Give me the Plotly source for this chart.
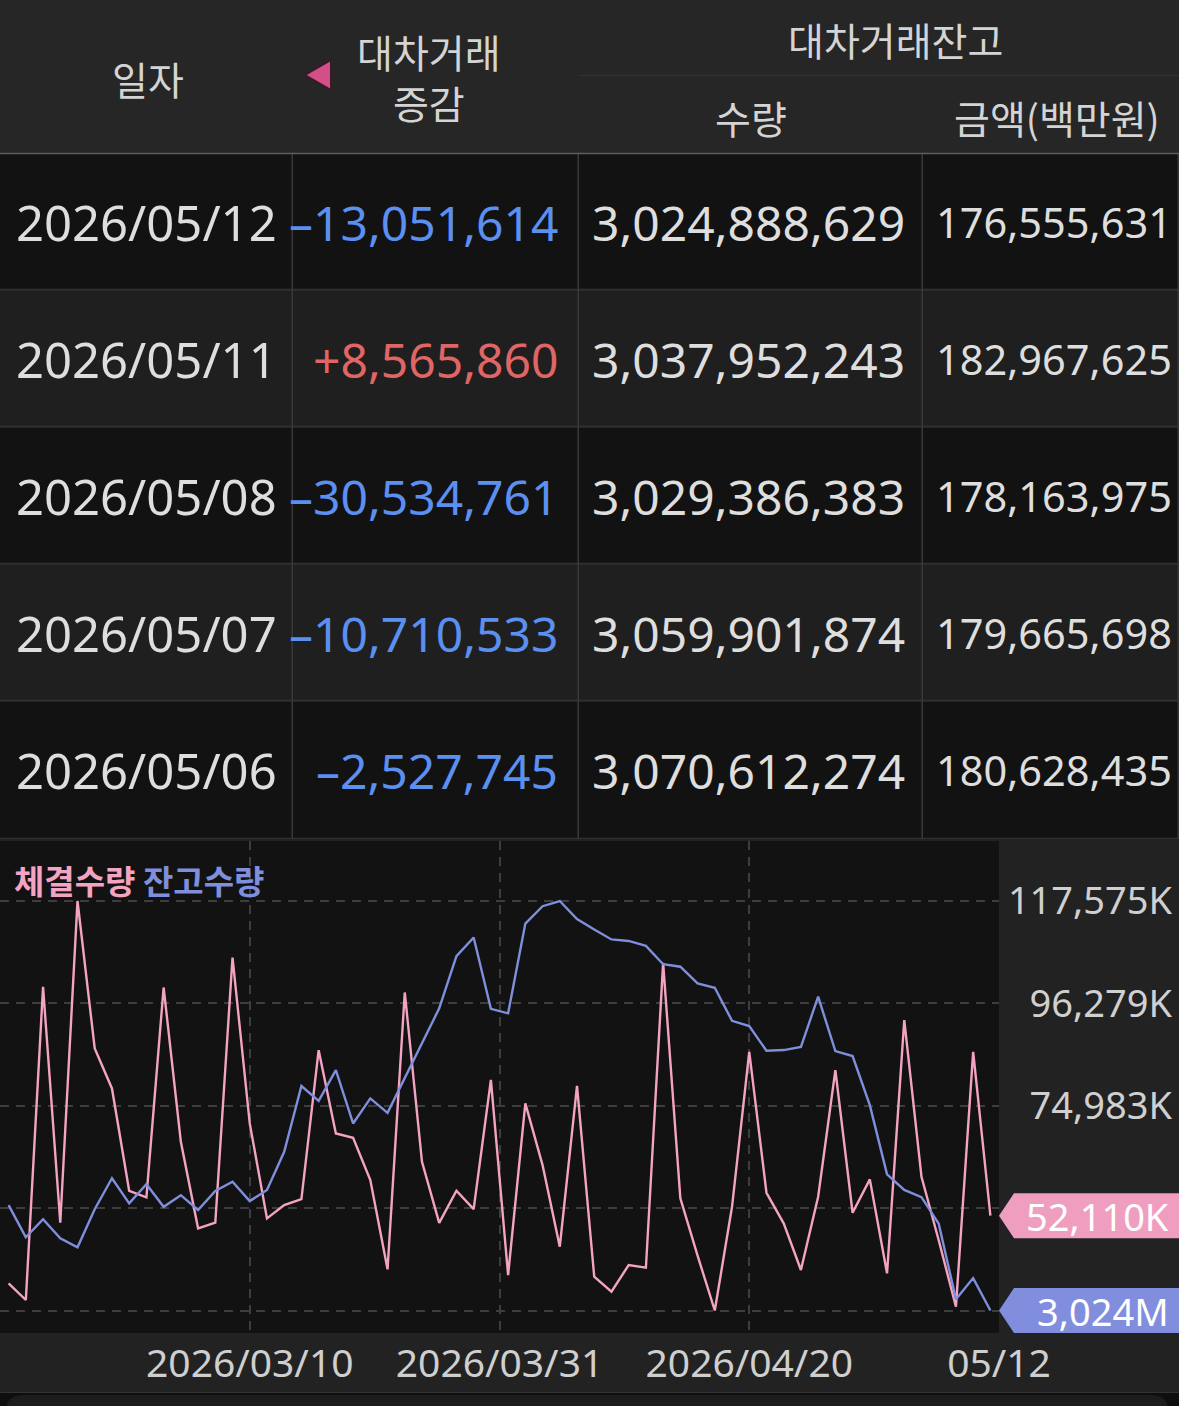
import plotly.graph_objects as go

W, H = 1179, 1406

# ---- table data (latest five rows) ----
dates = ["2026/05/12", "2026/05/11", "2026/05/08", "2026/05/07", "2026/05/06"]
changes = [-13051614, 8565860, -30534761, -10710533, -2527745]
balance_qty = [3024888629, 3037952243, 3029386383, 3059901874, 3070612274]
balance_amt = [176555631, 182967625, 178163975, 179665698, 180628435]

# ---- chart data: 58 trading days, oldest first ----
tick_labels = ["2026/03/10", "2026/03/31", "2026/04/20", "05/12"]
# 체결수량 (thousand shares)
executed_k = [
    38046, 34574, 99709, 50645, 117575, 86902, 78586, 57297, 55925, 99584,
    67485, 49480, 50690, 105821, 71310, 51559, 54324, 55572, 86549, 69231,
    68316, 59522, 40956, 98545, 63327, 50610, 57300, 53493, 80374, 39771,
    75468, 62640, 45655, 79127, 39418, 36300, 41850, 41289, 104699, 55717,
    43800, 32391, 53971, 86196, 56882, 50520, 40811, 56050, 82391, 52724,
    59667, 40125, 92786, 60208, 47000, 33181, 86200, 52110,
]
# 잔고수량 (million shares)
balance_m = [
    3067.4, 3054.4, 3061.7, 3054.0, 3050.4, 3065.7, 3078.2, 3068.1, 3075.8, 3066.7,
    3071.4, 3065.4, 3073.1, 3076.8, 3069.0, 3073.5, 3088.9, 3115.4, 3109.4, 3121.8,
    3100.3, 3110.4, 3104.6, 3118.7, 3132.8, 3146.7, 3167.8, 3175.3, 3146.5, 3144.7,
    3180.9, 3187.9, 3190.0, 3182.7, 3178.5, 3174.5, 3173.9, 3171.9, 3164.5, 3163.5,
    3156.8, 3155.0, 3141.7, 3139.6, 3129.6, 3129.9, 3131.2, 3151.4, 3129.5, 3127.5,
    3107.7, 3079.8, 3073.5, 3070.612, 3059.902, 3029.386, 3037.952, 3024.889,
]

PINK = "#f3a4c3"
BLUE = "#7f8fdc"
KR = "Noto Sans CJK KR"
NUM = "Noto Sans"
TXT = "#dedede"


def px(x):
    return x / W


def py(y):
    return 1 - y / H


# layout geometry (pixels)
TABLE_TOP, TABLE_BOTTOM = 153.5, 839
COL_EDGES = [0, 293, 579, 923, 1179]
RIGHT_PAD = [None, 19, 16, 5]          # None -> centred
PLOT_TOP, PLOT_BOTTOM, PLOT_RIGHT = 841, 1333, 999
GRID_TOP, GRID_BOTTOM = 901, 1310.5


def axis_range(vals):
    lo, hi = min(vals), max(vals)
    per_px = (hi - lo) / (GRID_BOTTOM - GRID_TOP)
    return [lo - per_px * (PLOT_BOTTOM - GRID_BOTTOM), hi + per_px * (GRID_TOP - PLOT_TOP)]


def signed(v):
    return f"{v:+,}".replace("-", "\u2013")


n = len(executed_k)
xs = list(range(n))
e_lo, e_hi = min(executed_k), max(executed_k)
e_step = (e_hi - e_lo) / 4
y_ticks = [e_lo + e_step * k for k in range(5)]
y_text = ["", ""] + [f"{v:,.0f}K" for v in y_ticks[2:]]
x_ticks = [-0.5 + n * f for f in (0.25, 0.5, 0.75, 1.0)]

fig = go.Figure()

# ---- table body: cells as a heatmap on a hidden axis pair ----
nrows = len(dates)
fig.add_trace(go.Heatmap(
    x=COL_EDGES, y=[r - 0.5 for r in range(nrows + 1)],
    z=[[r % 2] * 4 for r in range(nrows)],
    colorscale=[[0, "#121212"], [1, "#1f1f1f"]], zmin=0, zmax=1, showscale=False,
    xgap=1.5, ygap=1.5, hoverinfo="skip", xaxis="x3", yaxis="y3",
))

# ---- chart lines ----
fig.add_trace(go.Scatter(x=xs, y=balance_m, yaxis="y2", mode="lines",
                         line=dict(color=BLUE, width=2.4), hoverinfo="skip", showlegend=False))
fig.add_trace(go.Scatter(x=xs, y=executed_k, yaxis="y", mode="lines",
                         line=dict(color=PINK, width=2.4), hoverinfo="skip", showlegend=False))

grid = dict(showgrid=True, gridcolor="#3d3d3d", gridwidth=1.5, griddash="9px,7px", zeroline=False,
            showline=False, ticks="", automargin=False, fixedrange=True)
hidden = dict(visible=False, fixedrange=True, automargin=False)

fig.update_layout(
    width=W, height=H, margin=dict(l=0, r=0, t=0, b=0),
    paper_bgcolor="#222222", plot_bgcolor="#121212", showlegend=False,
    xaxis=dict(domain=[0, px(PLOT_RIGHT)], range=[-0.5, n - 0.5], tickvals=x_ticks, ticktext=tick_labels,
               tickfont=dict(family=NUM, size=39, color="#cfcfcf"), ticklabelstandoff=4, **grid),
    yaxis=dict(domain=[py(PLOT_BOTTOM), py(PLOT_TOP)], range=axis_range(executed_k), tickvals=y_ticks,
               ticktext=y_text, anchor="free", position=px(1172), side="left",
               tickfont=dict(family=NUM, size=38, color="#d0d0d0"), **grid),
    yaxis2=dict(overlaying="y", range=axis_range(balance_m), **hidden),
    xaxis3=dict(domain=[0, 1], range=[0, W], anchor="y3", **hidden),
    yaxis3=dict(domain=[py(TABLE_BOTTOM), py(TABLE_TOP)], range=[nrows - 0.5, -0.5], anchor="x3", **hidden),
)

shapes = []
ann = []

# header background and rules
shapes.append(dict(type="rect", xref="paper", yref="paper", x0=0, x1=1, y0=py(TABLE_TOP), y1=1,
                   fillcolor="#262626", line_width=0, layer="below"))
# cell borders show through heatmap gaps
shapes.append(dict(type="rect", xref="x3", yref="y3", x0=0, x1=W, y0=-0.5, y1=nrows - 0.5,
                   fillcolor="#383838", line_width=0, layer="below"))
shapes.append(dict(type="line", xref="paper", yref="paper", x0=px(579), x1=1, y0=py(75.5), y1=py(75.5),
                   line=dict(color="#343434", width=1)))
shapes.append(dict(type="line", xref="paper", yref="paper", x0=0, x1=1, y0=py(TABLE_TOP), y1=py(TABLE_TOP),
                   line=dict(color="#5e5e5e", width=1.5)))
# sort marker triangle
tri = [(331, 60), (331, 90), (305, 75)]
shapes.append(dict(type="path", xref="paper", yref="paper",
                   path="M " + " L ".join(f"{px(a)},{py(b)}" for a, b in tri) + " Z",
                   fillcolor="#d24f88", line=dict(color="#3a1a28", width=2)))

hdr_font = dict(family=KR, size=39, color="#d4d4d4")
for text, cx, cy in [("일자", 148, 78), ("대차거래<br>증감", 429, 77),
                     ("대차거래잔고", 895, 39), ("수량", 751, 117), ("금액(백만원)", 1057, 117)]:
    ann.append(dict(text=text, x=px(cx), y=py(cy), xref="paper", yref="paper",
                    showarrow=False, font=hdr_font, xanchor="center", yanchor="middle"))

# table cell texts
columns = [
    (dates, [TXT] * nrows, 49),
    ([signed(c) for c in changes], ["#e06666" if c > 0 else "#5b8ff0" for c in changes], 48),
    ([f"{q:,}" for q in balance_qty], [TXT] * nrows, 48),
    ([f"{a:,}" for a in balance_amt], [TXT] * nrows, 41.5),
]
for c, (texts, colors, size) in enumerate(columns):
    left, right = COL_EDGES[c], COL_EDGES[c + 1]
    pad = RIGHT_PAD[c]
    x = (left + right) / 2 if pad is None else right - pad
    for r in range(nrows):
        ann.append(dict(text=texts[r], x=x, y=r, xref="x3", yref="y3", showarrow=False,
                        xanchor="center" if pad is None else "right", yanchor="middle",
                        font=dict(family=NUM, size=size, color=colors[r])))

# series legend
ann.append(dict(text=f"<b><span style='color:{PINK}'>체결수량</span> <span style='color:{BLUE}'>잔고수량</span></b>",
                x=px(12), y=py(880), xref="paper", yref="paper", showarrow=False,
                font=dict(family=KR, size=33), xanchor="left", yanchor="middle"))

# last value badges
badge = "M -180,0 L -165,22.5 L 0,22.5 L 0,-22.5 L -165,-22.5 Z"
for yref, val, color, label in [("y", executed_k[-1], "#f09ebf", f"{int(executed_k[-1]):,}K"),
                                ("y2", balance_m[-1], "#808edd", f"{int(balance_m[-1]):,}M")]:
    shapes.append(dict(type="path", xref="paper", yref=yref, xsizemode="pixel", ysizemode="pixel",
                       xanchor=1, yanchor=val, path=badge, fillcolor=color, line_width=0))
    ann.append(dict(text=label, x=px(1171), y=val, xref="paper", yref=yref, showarrow=False,
                    font=dict(family=NUM, size=38, color="white"), xanchor="right", yanchor="middle"))

# bottom strip
shapes.append(dict(type="line", xref="paper", yref="paper", x0=0, x1=1, y0=py(1392.5), y1=py(1392.5),
                   line=dict(color="#333333", width=1)))
shapes.append(dict(type="rect", xref="paper", yref="paper", x0=0, x1=1, y0=0, y1=py(1393),
                   fillcolor="#0e0e0e", line_width=0))
shapes.append(dict(type="path", xref="paper", yref="paper", fillcolor="#1c1c1c", line_width=0,
                   path=(f"M {px(6)},0 L {px(6)},{py(1410)} Q {px(6)},{py(1395)} {px(24)},{py(1395)} "
                         f"L {px(1150)},{py(1395)} Q {px(1168)},{py(1395)} {px(1168)},{py(1410)} "
                         f"L {px(1168)},0 Z")))

fig.update_layout(shapes=shapes, annotations=ann)
fig.write_html("out.html", config={"displayModeBar": False},
               post_script="document.body.style.margin='0';document.body.style.background='#121212';")
